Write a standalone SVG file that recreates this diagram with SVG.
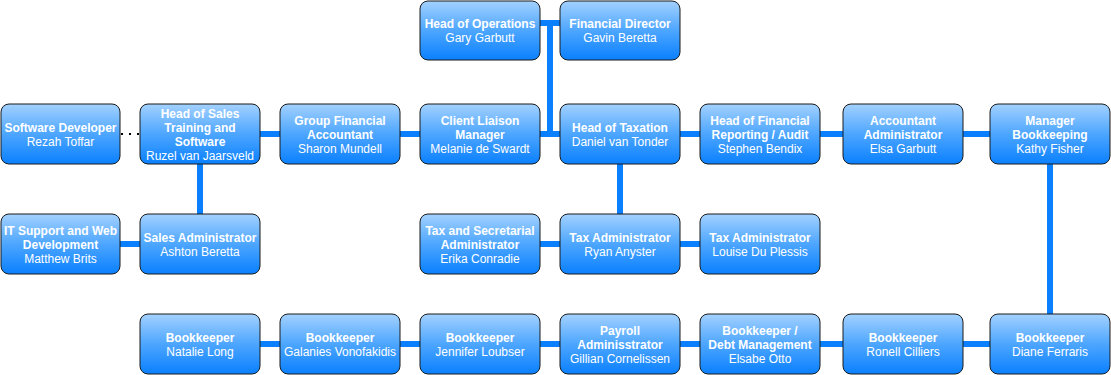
<svg xmlns="http://www.w3.org/2000/svg" width="1111" height="375" viewBox="0 0 1111 375">
<defs>
<linearGradient id="g" x1="0" y1="0" x2="0" y2="1">
<stop offset="0" stop-color="#a3d1ff"/>
<stop offset="0.5" stop-color="#4da6ff"/>
<stop offset="1" stop-color="#0a80ff"/>
</linearGradient>
</defs>
<style>
rect.box{fill:url(#g);stroke:#1a1a1a;stroke-width:1}
text{font-family:"Liberation Sans",Arial,sans-serif;font-size:12px;fill:#fff;text-anchor:middle}
.t{font-weight:bold}
.c line,.c polyline{stroke:#0a80ff;stroke-width:6;fill:none}
.c line.dot{stroke:#000;stroke-width:2;stroke-dasharray:2 6}
</style>
<g class="c" id="connectors">
<line class="dot" x1="121" y1="134" x2="140" y2="134"/>
<line x1="260" y1="134" x2="280" y2="134"/>
<line x1="400" y1="134" x2="420" y2="134"/>
<line x1="540" y1="134" x2="560" y2="134"/>
<line x1="550" y1="23" x2="550" y2="134"/>
<line x1="540" y1="23" x2="560" y2="23"/>
<line x1="680" y1="134" x2="700" y2="134"/>
<line x1="820" y1="134" x2="843" y2="134"/>
<line x1="963" y1="134" x2="990" y2="134"/>
<line x1="1050" y1="164" x2="1050" y2="314"/>
<line x1="620" y1="164" x2="620" y2="214"/>
<line x1="200" y1="164" x2="200" y2="214"/>
<line x1="120" y1="244" x2="140" y2="244"/>
<line x1="540" y1="244" x2="560" y2="244"/>
<line x1="680" y1="244" x2="700" y2="244"/>
<line x1="260" y1="344" x2="280" y2="344"/>
<line x1="400" y1="344" x2="420" y2="344"/>
<line x1="540" y1="344" x2="560" y2="344"/>
<line x1="680" y1="344" x2="700" y2="344"/>
<line x1="820" y1="344" x2="843" y2="344"/>
<line x1="963" y1="344" x2="990" y2="344"/>
</g>
<g id="head-ops"><rect class="box" x="420" y="1" width="120" height="59" rx="8"/><text class="t" x="480" y="28">Head of Operations</text><text x="480" y="42">Gary Garbutt</text></g>
<g id="fin-dir"><rect class="box" x="560" y="1" width="120" height="59" rx="8"/><text class="t" x="620" y="28">Financial Director</text><text x="620" y="42">Gavin Beretta</text></g>
<g id="soft-dev"><rect class="box" x="1" y="104" width="119" height="60" rx="8"/><text class="t" x="60.5" y="131.5">Software Developer</text><text x="60.5" y="145.5">Rezah Toffar</text></g>
<g id="head-sales"><rect class="box" x="140" y="104" width="120" height="60" rx="8"/><text class="t" x="200" y="117.5">Head of Sales</text><text class="t" x="200" y="131.5">Training and</text><text class="t" x="200" y="145.5">Software</text><text x="200" y="159.5">Ruzel van Jaarsveld</text></g>
<g id="group-fin"><rect class="box" x="280" y="104" width="120" height="60" rx="8"/><text class="t" x="340" y="124.5">Group Financial</text><text class="t" x="340" y="138.5">Accountant</text><text x="340" y="152.5">Sharon Mundell</text></g>
<g id="client-liaison"><rect class="box" x="420" y="104" width="120" height="60" rx="8"/><text class="t" x="480" y="124.5">Client Liaison</text><text class="t" x="480" y="138.5">Manager</text><text x="480" y="152.5">Melanie de Swardt</text></g>
<g id="head-tax"><rect class="box" x="560" y="104" width="120" height="60" rx="8"/><text class="t" x="620" y="131.5">Head of Taxation</text><text x="620" y="145.5">Daniel van Tonder</text></g>
<g id="head-fr"><rect class="box" x="700" y="104" width="120" height="60" rx="8"/><text class="t" x="760" y="124.5">Head of Financial</text><text class="t" x="760" y="138.5">Reporting / Audit</text><text x="760" y="152.5">Stephen Bendix</text></g>
<g id="acc-admin"><rect class="box" x="843" y="104" width="120" height="60" rx="8"/><text class="t" x="903" y="124.5">Accountant</text><text class="t" x="903" y="138.5">Administrator</text><text x="903" y="152.5">Elsa Garbutt</text></g>
<g id="mgr-book"><rect class="box" x="990" y="104" width="120" height="60" rx="8"/><text class="t" x="1050" y="124.5">Manager</text><text class="t" x="1050" y="138.5">Bookkeeping</text><text x="1050" y="152.5">Kathy Fisher</text></g>
<g id="it-support"><rect class="box" x="1" y="214" width="119" height="60" rx="8"/><text class="t" x="60.5" y="234.5">IT Support and Web</text><text class="t" x="60.5" y="248.5">Development</text><text x="60.5" y="262.5">Matthew Brits</text></g>
<g id="sales-admin"><rect class="box" x="140" y="214" width="120" height="60" rx="8"/><text class="t" x="200" y="241.5">Sales Administrator</text><text x="200" y="255.5">Ashton Beretta</text></g>
<g id="tax-sec"><rect class="box" x="420" y="214" width="120" height="60" rx="8"/><text class="t" x="480" y="234.5">Tax and Secretarial</text><text class="t" x="480" y="248.5">Administrator</text><text x="480" y="262.5">Erika Conradie</text></g>
<g id="tax-ryan"><rect class="box" x="560" y="214" width="120" height="60" rx="8"/><text class="t" x="620" y="241.5">Tax Administrator</text><text x="620" y="255.5">Ryan Anyster</text></g>
<g id="tax-louise"><rect class="box" x="700" y="214" width="120" height="60" rx="8"/><text class="t" x="760" y="241.5">Tax Administrator</text><text x="760" y="255.5">Louise Du Plessis</text></g>
<g id="bk-natalie"><rect class="box" x="140" y="314" width="120" height="60" rx="8"/><text class="t" x="200" y="341.5">Bookkeeper</text><text x="200" y="355.5">Natalie Long</text></g>
<g id="bk-galanies"><rect class="box" x="280" y="314" width="120" height="60" rx="8"/><text class="t" x="340" y="341.5">Bookkeeper</text><text x="340" y="355.5">Galanies Vonofakidis</text></g>
<g id="bk-jennifer"><rect class="box" x="420" y="314" width="120" height="60" rx="8"/><text class="t" x="480" y="341.5">Bookkeeper</text><text x="480" y="355.5">Jennifer Loubser</text></g>
<g id="payroll"><rect class="box" x="560" y="314" width="120" height="60" rx="8"/><text class="t" x="620" y="334.5">Payroll</text><text class="t" x="620" y="348.5">Adminisstrator</text><text x="620" y="362.5">Gillian Cornelissen</text></g>
<g id="bk-debt"><rect class="box" x="700" y="314" width="120" height="60" rx="8"/><text class="t" x="760" y="334.5">Bookkeeper /</text><text class="t" x="760" y="348.5">Debt Management</text><text x="760" y="362.5">Elsabe Otto</text></g>
<g id="bk-ronell"><rect class="box" x="843" y="314" width="120" height="60" rx="8"/><text class="t" x="903" y="341.5">Bookkeeper</text><text x="903" y="355.5">Ronell Cilliers</text></g>
<g id="bk-diane"><rect class="box" x="990" y="314" width="120" height="60" rx="8"/><text class="t" x="1050" y="341.5">Bookkeeper</text><text x="1050" y="355.5">Diane Ferraris</text></g>
</svg>
